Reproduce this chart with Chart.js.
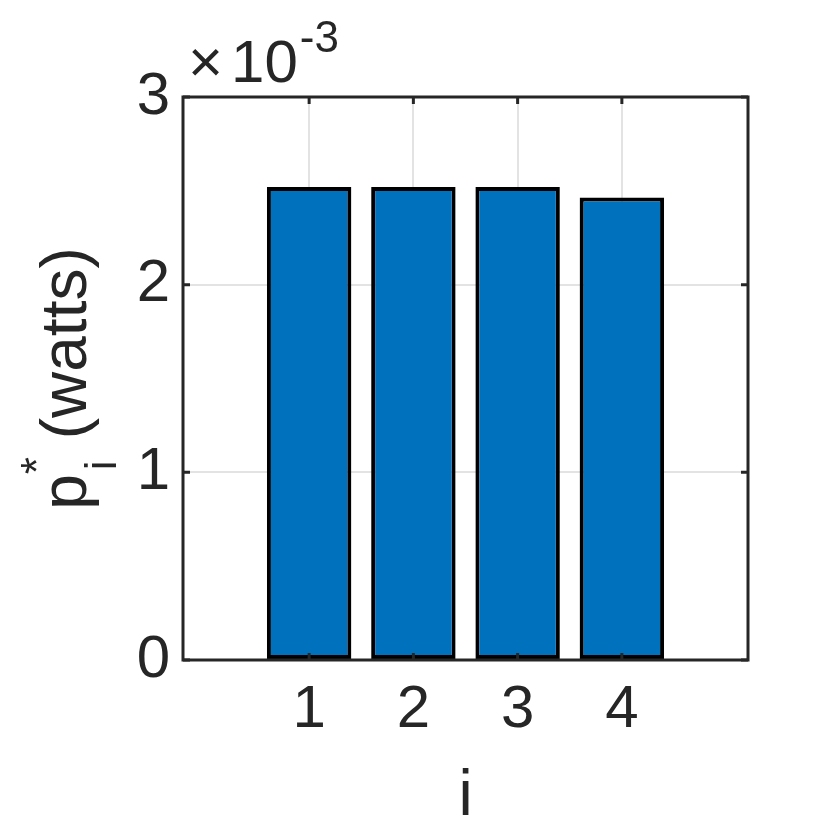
<!DOCTYPE html>
<html lang="en">
<head>
    <meta charset="UTF-8">
    <title>Potencia por canal</title>
    <script src="https://cdn.jsdelivr.net/npm/chart.js"></script>
    <style>
        body { margin: 0; background: #fff; }
    </style>
</head>
<body>
    <canvas id="myChart" width="830" height="830"></canvas>
<script>
    // dados
    const canais = [1, 2, 3, 4];
    const potencia = [2.52e-3, 2.52e-3, 2.52e-3, 2.465e-3];
    const yTicks = [0, 1, 2, 3]; // em unidades de 1e-3
    const xTicks = [1, 2, 3, 4];

    const corEixo = '#262626';
    const fonte = '"Liberation Sans", Arial, sans-serif';

    // moldura, marcas internas e textos com sub/sobrescrito
    const moldura = {
        id: 'moldura',
        afterDraw(chart) {
            const ctx = chart.ctx;
            const a = chart.chartArea;
            const sx = chart.scales.x, sy = chart.scales.y;
            const tam = 7;
            ctx.save();
            ctx.strokeStyle = corEixo;
            ctx.lineWidth = 3;
            ctx.beginPath();
            xTicks.forEach(v => {
                const px = sx.getPixelForValue(v);
                ctx.moveTo(px, a.bottom); ctx.lineTo(px, a.bottom - tam);
                ctx.moveTo(px, a.top); ctx.lineTo(px, a.top + tam);
            });
            yTicks.forEach(v => {
                const py = sy.getPixelForValue(v * 1e-3);
                ctx.moveTo(a.left, py); ctx.lineTo(a.left + tam, py);
                ctx.moveTo(a.right, py); ctx.lineTo(a.right - tam, py);
            });
            ctx.stroke();
            ctx.strokeRect(a.left, a.top, a.right - a.left, a.bottom - a.top);

            ctx.fillStyle = corEixo;
            ctx.textBaseline = 'alphabetic';

            // multiplicador do eixo y
            ctx.textAlign = 'left';
            ctx.font = '60px ' + fonte;
            ctx.fillText('\u00d7', 188, 82);
            const wx = ctx.measureText('\u00d7').width;
            ctx.fillText('10', 188 + wx + 8, 82);
            const w10 = ctx.measureText('10').width;
            ctx.font = '44px ' + fonte;
            ctx.fillText('-3', 188 + wx + 8 + w10 + 2, 52);

            // rótulo do eixo x
            ctx.font = '64px ' + fonte;
            ctx.textAlign = 'center';
            ctx.fillText('i', (a.left + a.right) / 2, 815);

            // rótulo do eixo y: p_i^* (watts)
            ctx.save();
            ctx.translate(86, (a.top + a.bottom) / 2);
            ctx.rotate(-Math.PI / 2);
            ctx.textAlign = 'left';
            ctx.font = '64px ' + fonte;
            const wp = ctx.measureText('p').width;
            ctx.font = '44px ' + fonte;
            const wi = ctx.measureText('*').width;
            ctx.font = '64px ' + fonte;
            const wResto = ctx.measureText(' (watts)').width;
            const total = wp + wi + wResto;
            let x = -total / 2;
            ctx.fillText('p', x, 0);
            x += wp;
            ctx.font = '44px ' + fonte;
            ctx.fillText('i', x + 4, 30);
            ctx.fillText('*', x, -34);
            x += wi;
            ctx.font = '64px ' + fonte;
            ctx.fillText(' (watts)', x, 0);
            ctx.restore();

            ctx.restore();
        }
    };

    const dados = {
        datasets: [{
            data: canais.map((c, i) => ({ x: c, y: potencia[i] })),
            backgroundColor: '#0072BD',
            borderColor: '#000000',
            borderWidth: 4,
            borderSkipped: false,
            barPercentage: 0.81,
            categoryPercentage: 1
        }]
    };

    const options = {
        responsive: false,
        animation: false,
        layout: { padding: { top: 97, right: 82, left: 0, bottom: 0 } },
        plugins: {
            legend: { display: false },
            tooltip: { enabled: false }
        },
        scales: {
            x: {
                type: 'linear',
                min: -0.21,
                max: 5.21,
                offset: false,
                afterBuildTicks: s => { s.ticks = xTicks.map(v => ({ value: v })); },
                afterFit: s => { s.height = 170; },
                ticks: {
                    color: corEixo,
                    padding: 14,
                    font: { family: fonte, size: 60 },
                    callback: v => String(v)
                },
                grid: { color: '#e3e3e3', lineWidth: 2, drawTicks: false, offset: false },
                border: { display: false }
            },
            y: {
                min: 0,
                max: 0.003,
                afterBuildTicks: s => { s.ticks = yTicks.map(v => ({ value: v * 1e-3 })); },
                afterFit: s => { s.width = 183; },
                ticks: {
                    color: corEixo,
                    padding: 13,
                    font: { family: fonte, size: 60 },
                    callback: v => String(Math.round(v * 1000))
                },
                grid: { color: '#e3e3e3', lineWidth: 2, drawTicks: false },
                border: { display: false }
            }
        }
    };

    new Chart(document.getElementById('myChart'), {
        type: 'bar',
        data: dados,
        options: options,
        plugins: [moldura]
    });
</script>
</body>
</html>
